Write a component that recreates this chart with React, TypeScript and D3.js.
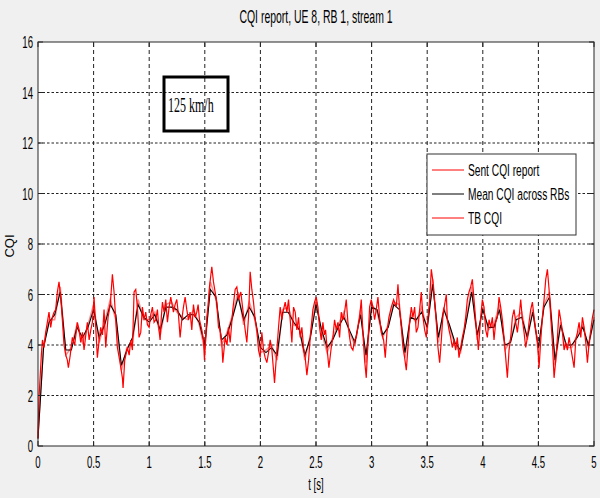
import React from "react";
import * as d3 from "d3";

// ---------- data ----------
const xTicks = [0, 0.5, 1, 1.5, 2, 2.5, 3, 3.5, 4, 4.5, 5];
const yTicks = [0, 2, 4, 6, 8, 10, 12, 14, 16];
const seriesNames = ["Sent CQI report", "Mean CQI across RBs", "TB CQI"];

// Sent CQI report: [time s, CQI]
const sentCqi: [number, number][] = [
  [0,0.3],[0.005,1.2],[0.01,2.0],[0.02,2.8],[0.03,3.6],[0.04,4.2],[0.054,3.9],[0.069,4.5],[0.084,4.9],[0.099,5.3],
  [0.114,4.7],[0.129,5.1],[0.144,5.3],[0.159,5.4],[0.174,6.1],[0.189,6.5],[0.204,5.9],[0.219,5.0],[0.234,4.0],[0.25,3.6],
  [0.264,3.4],[0.273,3.1],[0.29,3.6],[0.309,4.3],[0.33,4.0],[0.354,4.9],[0.37,4.6],[0.384,4.1],[0.40,4.5],[0.414,3.8],
  [0.43,4.4],[0.444,4.9],[0.46,4.2],[0.475,4.6],[0.489,4.9],[0.504,5.9],[0.519,4.7],[0.534,3.5],[0.55,4.2],[0.564,4.7],
  [0.58,4.4],[0.594,5.4],[0.609,3.9],[0.63,5.1],[0.65,5.6],[0.669,6.8],[0.684,6.1],[0.699,5.0],[0.714,3.9],[0.738,3.3],
  [0.759,2.7],[0.765,2.3],[0.78,3.4],[0.804,3.9],[0.82,3.6],[0.834,4.2],[0.849,3.8],[0.864,6.1],[0.879,6.2],[0.894,5.5],
  [0.909,4.3],[0.924,4.5],[0.939,5.5],[0.954,5.0],[0.969,5.3],[0.984,4.8],[0.999,4.7],[1.014,5.2],[1.029,5.5],[1.044,4.9],
  [1.059,5.0],[1.074,5.4],[1.088,4.6],[1.098,4.2],[1.109,5.1],[1.119,5.7],[1.134,5.3],[1.149,5.8],[1.164,4.9],[1.179,5.5],
  [1.194,5.9],[1.218,5.3],[1.233,5.6],[1.248,5.8],[1.263,5.2],[1.278,4.3],[1.293,5.0],[1.308,5.5],[1.323,5.9],[1.338,5.4],
  [1.353,5.0],[1.368,5.3],[1.383,4.6],[1.398,5.6],[1.413,5.1],[1.428,5.3],[1.44,5.6],[1.452,5.0],[1.473,4.6],[1.488,4.2],
  [1.497,3.4],[1.518,5.1],[1.53,5.6],[1.542,6.3],[1.563,7.1],[1.578,6.5],[1.593,6.1],[1.608,5.7],[1.623,4.7],[1.638,4.6],
  [1.653,4.1],[1.662,3.3],[1.683,4.3],[1.7,4.0],[1.713,4.7],[1.728,4.1],[1.752,5.4],[1.773,6.2],[1.788,6.3],[1.803,5.8],
  [1.824,6.1],[1.842,5.4],[1.863,4.6],[1.878,4.1],[1.893,5.1],[1.908,6.9],[1.923,6.2],[1.938,5.7],[1.953,5.0],[1.968,4.6],
  [1.983,3.8],[1.998,3.5],[2.013,4.5],[2.028,3.8],[2.043,3.5],[2.058,3.3],[2.073,3.7],[2.088,4.2],[2.103,3.8],[2.118,3.0],
  [2.127,2.5],[2.148,3.8],[2.163,4.7],[2.178,5.5],[2.193,5.0],[2.208,5.4],[2.223,5.7],[2.238,5.3],[2.253,5.8],[2.268,5.0],
  [2.283,4.1],[2.298,5.5],[2.313,5.3],[2.328,4.6],[2.343,5.1],[2.358,4.3],[2.373,4.7],[2.388,3.9],[2.403,3.5],[2.418,2.8],
  [2.433,3.4],[2.45,4.4],[2.472,5.4],[2.487,5.7],[2.502,5.9],[2.517,5.5],[2.532,4.7],[2.547,4.2],[2.562,4.9],[2.575,4.4],
  [2.586,4.6],[2.601,3.8],[2.616,3.1],[2.637,3.9],[2.652,4.3],[2.667,5.0],[2.682,4.6],[2.697,4.9],[2.712,4.3],[2.727,5.3],
  [2.742,5.0],[2.757,5.3],[2.772,5.8],[2.787,4.9],[2.802,4.3],[2.817,3.9],[2.832,3.8],[2.847,4.2],[2.862,4.3],[2.877,4.7],
  [2.892,5.1],[2.907,5.8],[2.922,4.5],[2.937,3.4],[2.952,2.7],[2.967,4.1],[2.982,5.5],[2.997,5.8],[3.012,5.5],[3.027,5.0],
  [3.042,5.4],[3.057,5.9],[3.072,5.1],[3.087,4.5],[3.108,4.2],[3.123,3.5],[3.138,4.5],[3.156,5.1],[3.177,5.5],[3.198,5.8],
  [3.222,5.5],[3.237,6.4],[3.252,5.4],[3.267,4.7],[3.282,3.9],[3.297,3.5],[3.312,3.0],[3.327,3.9],[3.342,4.9],[3.357,5.5],
  [3.372,5.1],[3.387,5.5],[3.402,4.5],[3.417,4.7],[3.432,5.4],[3.447,6.1],[3.462,5.1],[3.477,4.6],[3.492,4.3],[3.507,5.1],
  [3.522,5.8],[3.537,7.0],[3.552,6.5],[3.567,5.7],[3.582,4.9],[3.597,3.9],[3.612,3.3],[3.627,4.2],[3.642,5.2],[3.657,5.6],
  [3.672,6.0],[3.681,5.0],[3.696,4.6],[3.711,4.3],[3.726,3.9],[3.741,4.2],[3.756,3.8],[3.771,4.3],[3.786,3.5],[3.801,3.9],
  [3.816,4.3],[3.831,4.6],[3.846,5.1],[3.861,5.8],[3.876,6.1],[3.891,6.3],[3.906,6.6],[3.921,5.8],[3.936,5.0],[3.951,4.3],
  [3.96,3.8],[3.981,5.1],[3.996,5.8],[4.011,5.5],[4.026,4.6],[4.041,4.3],[4.056,5.0],[4.071,4.7],[4.086,5.1],[4.101,4.2],
  [4.116,4.9],[4.131,5.1],[4.146,5.9],[4.161,5.5],[4.176,5.0],[4.191,4.3],[4.206,3.5],[4.221,2.7],[4.236,3.8],[4.251,4.3],
  [4.266,5.1],[4.281,5.4],[4.296,4.9],[4.311,4.5],[4.326,5.1],[4.341,5.8],[4.356,5.0],[4.371,4.5],[4.386,3.9],[4.401,4.3],
  [4.416,4.9],[4.431,5.4],[4.446,5.7],[4.461,5.1],[4.476,4.6],[4.491,4.2],[4.506,3.1],[4.521,4.2],[4.536,5.1],[4.551,5.8],
  [4.566,6.6],[4.581,7.0],[4.596,6.2],[4.611,5.1],[4.626,4.1],[4.641,2.7],[4.656,3.4],[4.671,4.3],[4.686,5.4],[4.701,5.0],
  [4.716,4.5],[4.731,3.8],[4.746,4.1],[4.761,3.8],[4.776,4.3],[4.791,3.9],[4.806,3.5],[4.821,3.1],[4.836,4.2],[4.851,4.5],
  [4.866,4.9],[4.881,4.3],[4.896,5.1],[4.911,4.7],[4.926,4.1],[4.941,3.3],[4.956,4.1],[4.971,4.6],[4.986,5.1],[5.0,5.4],
];

// Mean CQI across RBs and TB CQI, sampled every 0.05 s
const sampleStep = 0.05;
const meanCqi = [
  0.3,3.9,4.9,5.2,6.1,3.8,3.8,4.7,4.3,4.7,
  5.4,4.3,4.8,5.6,5.2,3.2,3.8,4.3,5.6,5.1,
  4.9,5.2,4.6,5.5,5.5,5.4,5.0,5.2,5.2,4.9,
  4.0,6.2,5.9,4.2,4.4,5.1,5.9,5.0,5.5,5.1,
  3.9,3.7,3.9,3.6,5.3,5.3,4.9,4.6,3.6,4.3,
  5.6,4.6,3.9,4.2,4.7,5.1,4.6,4.1,5.2,3.6,
  5.5,5.4,4.4,4.7,5.6,5.4,3.7,5.1,5.0,5.3,
  4.7,6.4,4.3,5.4,4.8,4.1,3.8,4.9,6.1,4.4,
  5.4,4.7,4.7,5.4,4.0,4.1,5.0,5.1,4.3,5.3,
  3.9,5.5,5.9,3.4,4.8,4.0,4.0,4.3,4.7,4.0,
  5.0,
];
const tbCqi = [
  0.5,4.0,5.0,5.0,6.3,3.6,3.9,4.8,4.1,4.8,
  5.6,4.1,4.9,5.8,5.0,3.0,3.9,4.1,5.8,5.0,
  5.0,5.3,4.4,5.6,5.7,5.3,5.1,5.0,5.4,4.8,
  3.8,6.5,5.8,4.0,4.5,5.2,6.1,4.8,5.7,5.0,
  3.7,3.8,4.0,3.4,5.4,5.5,4.8,4.7,3.4,4.4,
  5.8,4.5,3.7,4.3,4.8,5.3,4.5,4.0,5.4,3.3,
  5.6,5.3,4.3,4.8,5.7,5.6,3.5,5.2,4.9,5.5,
  4.6,6.6,4.1,5.5,4.7,4.0,3.7,5.0,6.3,4.2,
  5.5,4.6,4.8,5.6,3.8,4.2,5.1,5.3,4.2,5.4,
  3.7,5.6,6.1,3.2,4.9,3.9,3.9,4.4,4.8,3.9,
  5.1,
];

const titleText = "CQI report, UE 8, RB 1, stream 1";
const xLabel = "t [s]";
const yLabel = "CQI";
const annotation = "125 km/h";

// ---------- layout ----------
const W = 600, H = 498;
const L = 38, R = 594, T = 42, B = 446;
const SANS = "'Liberation Sans', Arial, Helvetica, sans-serif";
const SX = 0.6;

function SText(props: { x: number; y: number; size: number; anchor?: string; sx?: number; children: React.ReactNode; family?: string }) {
  const { x, y, size, anchor = "start", sx = SX, children, family = SANS } = props;
  return (
    <text transform={`translate(${x},${y}) scale(${sx},1)`} fontFamily={family} fontSize={size} textAnchor={anchor} fill="#000">
      {children}
    </text>
  );
}

export default function App() {
  const x = d3.scaleLinear().domain([0, 5]).range([L, R]);
  const y = d3.scaleLinear().domain([0, 16]).range([B, T]);
  const line = d3.line<[number, number]>().x((d) => x(d[0])).y((d) => y(d[1]));
  const sampled = (arr: number[]) => arr.map((v, i) => [i * sampleStep, v] as [number, number]);

  const legendX = 427, legendY = 154, legendW = 149, legendH = 81;
  const rowY = [170, 194, 218];
  const legendColors = ["#ff0000", "#000000", "#ff0000"];

  return (
    <svg width={W} height={H} style={{ position: "absolute", left: 0, top: 0 }}>
      <rect x={0} y={0} width={W} height={H} fill="#f0f0f0" />
      <rect x={L} y={T} width={R - L} height={B - T} fill="#ffffff" />
      {/* grid */}
      {xTicks.slice(1, -1).map((t) => (
        <line key={"gx" + t} x1={x(t)} x2={x(t)} y1={B} y2={T} stroke="#222" strokeWidth={1} strokeDasharray="4,3" />
      ))}
      {yTicks.slice(1, -1).map((v) => (
        <line key={"gy" + v} x1={L} x2={R} y1={y(v)} y2={y(v)} stroke="#222" strokeWidth={1} strokeDasharray="2.5,2" />
      ))}
      {/* series */}
      <path d={line(sampled(tbCqi)) || ""} fill="none" stroke="#ff0000" strokeOpacity={0.45} strokeWidth={1.6} />
      <path d={line(sampled(meanCqi)) || ""} fill="none" stroke="#000" strokeWidth={1.1} />
      <path d={line(sentCqi) || ""} fill="none" stroke="#ff0000" strokeWidth={1.2} />
      {/* frame */}
      <rect x={L} y={T} width={R - L} height={B - T} fill="none" stroke="#262626" strokeWidth={1} />
      {/* ticks */}
      {xTicks.map((t) => (
        <g key={"tx" + t}>
          <line x1={x(t)} x2={x(t)} y1={B} y2={B - 5} stroke="#262626" />
          <line x1={x(t)} x2={x(t)} y1={T} y2={T + 5} stroke="#262626" />
          <SText x={x(t)} y={468} size={16} anchor="middle">{String(t)}</SText>
        </g>
      ))}
      {yTicks.map((v) => (
        <g key={"ty" + v}>
          <line x1={L} x2={L + 5} y1={y(v)} y2={y(v)} stroke="#262626" />
          <line x1={R} x2={R - 5} y1={y(v)} y2={y(v)} stroke="#262626" />
          <SText x={33} y={y(v) + 6} size={16} anchor="end">{String(v)}</SText>
        </g>
      ))}
      {/* labels */}
      <SText x={316} y={23} size={18} anchor="middle" sx={0.58}>{titleText}</SText>
      <SText x={316} y={490} size={16} anchor="middle">{xLabel}</SText>
      <text transform={`translate(14,246) rotate(-90)`} fontFamily={SANS} fontSize={13} textAnchor="middle">{yLabel}</text>
      {/* annotation */}
      <rect x={164} y={77} width={64} height={54} fill="none" stroke="#000" strokeWidth={3} />
      <SText x={168} y={112} size={20} family="'Liberation Serif', 'Times New Roman', serif">{annotation}</SText>
      {/* legend */}
      <rect x={legendX} y={legendY} width={legendW} height={legendH} fill="#fff" stroke="#333" strokeWidth={1} />
      {seriesNames.map((n, i) => (
        <g key={n}>
          <line x1={432} x2={464} y1={rowY[i]} y2={rowY[i]} stroke={legendColors[i]} strokeWidth={1} />
          <SText x={468} y={rowY[i] + 6} size={17}>{n}</SText>
        </g>
      ))}
    </svg>
  );
}
